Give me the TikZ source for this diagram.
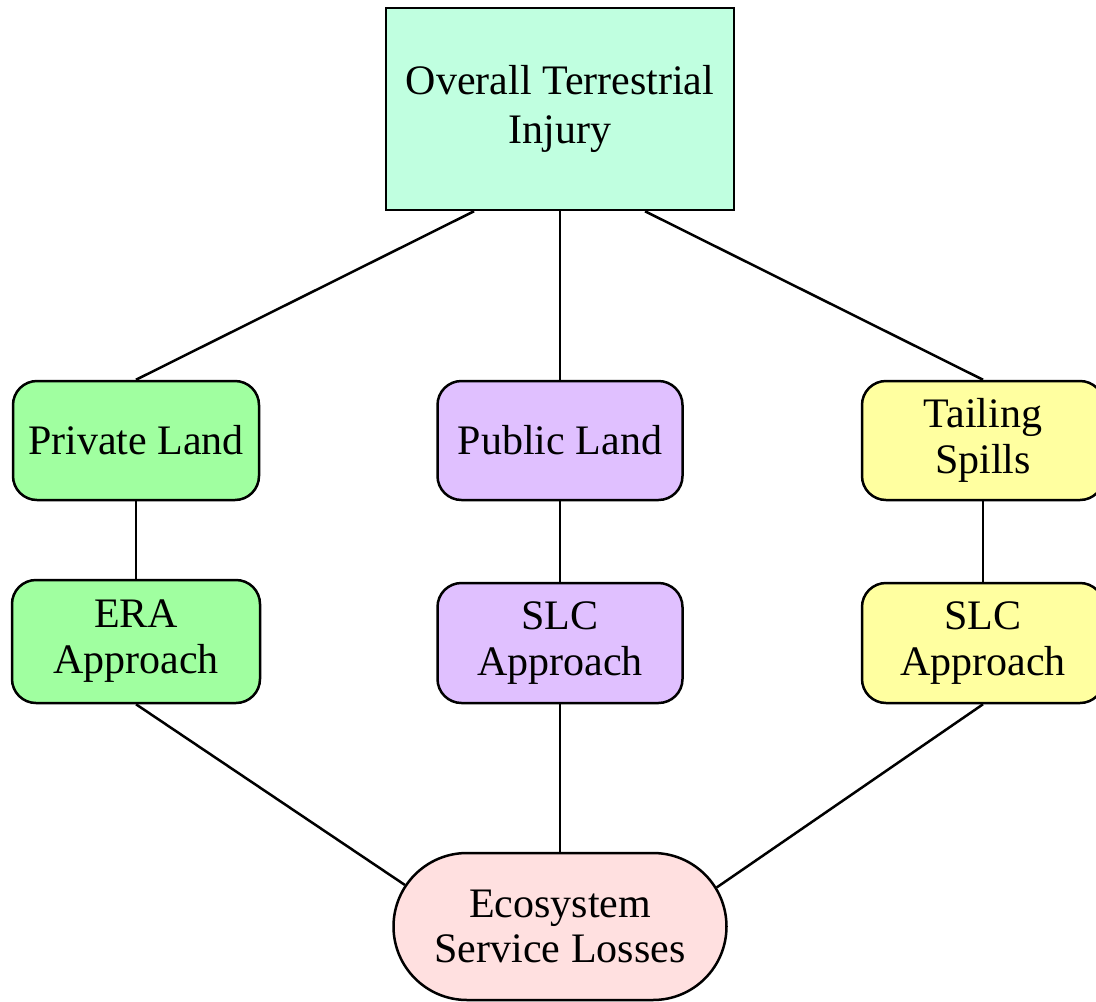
\documentclass[tikz,border=0pt]{standalone}
\usepackage{fontspec}
\setmainfont{Liberation Serif}
\usetikzlibrary{shapes.misc}
\definecolor{cmint}{HTML}{C0FFE0}
\definecolor{cgreen}{HTML}{A0FFA0}
\definecolor{cpurple}{HTML}{E0C0FF}
\definecolor{cyellow}{HTML}{FFFFA0}
\definecolor{cpink}{HTML}{FFE0E0}
\begin{document}
\begin{tikzpicture}[x=1pt,y=-1pt,
  every node/.style={draw=black, line width=2.5pt, align=center, inner sep=0pt,
    font=\fontsize{42}{46}\selectfont},
  boxnode/.style={rectangle, rounded corners=24pt},
  conn/.style={line width=2.5pt}]
\useasboundingbox (0,0) rectangle (1096,1002);
\node[rectangle, fill=cmint, minimum width=348pt, minimum height=202pt,
  font=\fontsize{42}{49}\selectfont] (top) at (560,109) {Overall Terrestrial\\Injury};
\node[boxnode, fill=cgreen, minimum width=246pt, minimum height=119pt] (priv) at (136,440.5) {Private Land};
\node[boxnode, fill=cpurple, minimum width=245pt, minimum height=119pt] (pub) at (560,440.5) {Public Land};
\node[boxnode, fill=cyellow, minimum width=242pt, minimum height=119pt] (tail) at (983,440.5) {Tailing\\Spills};
\node[boxnode, fill=cgreen, minimum width=248pt, minimum height=123pt] (era) at (136,641.5) {ERA\\Approach};
\node[boxnode, fill=cpurple, minimum width=245pt, minimum height=120pt] (slcm) at (560,643) {SLC\\Approach};
\node[boxnode, fill=cyellow, minimum width=242pt, minimum height=120pt] (slcr) at (983,643) {SLC\\Approach};
\node[rounded rectangle, fill=cpink, minimum width=333pt, minimum height=147pt,
  font=\fontsize{42}{45}\selectfont] (eco) at (560,926.5) {Ecosystem\\Service Losses};
\draw[conn] ([xshift=-86pt]top.south) -- (priv.north);
\draw[conn] (top.south) -- (pub.north);
\draw[conn] ([xshift=85pt]top.south) -- (tail.north);
\draw[conn] (priv) -- (era);
\draw[conn] (pub) -- (slcm);
\draw[conn] (tail) -- (slcr);
\draw[conn] (era.south) -- (eco.165.7);
\draw[conn] (slcm.south) -- (eco.north);
\draw[conn] (slcr.south) -- (eco.14.3);
\end{tikzpicture}
\end{document}
